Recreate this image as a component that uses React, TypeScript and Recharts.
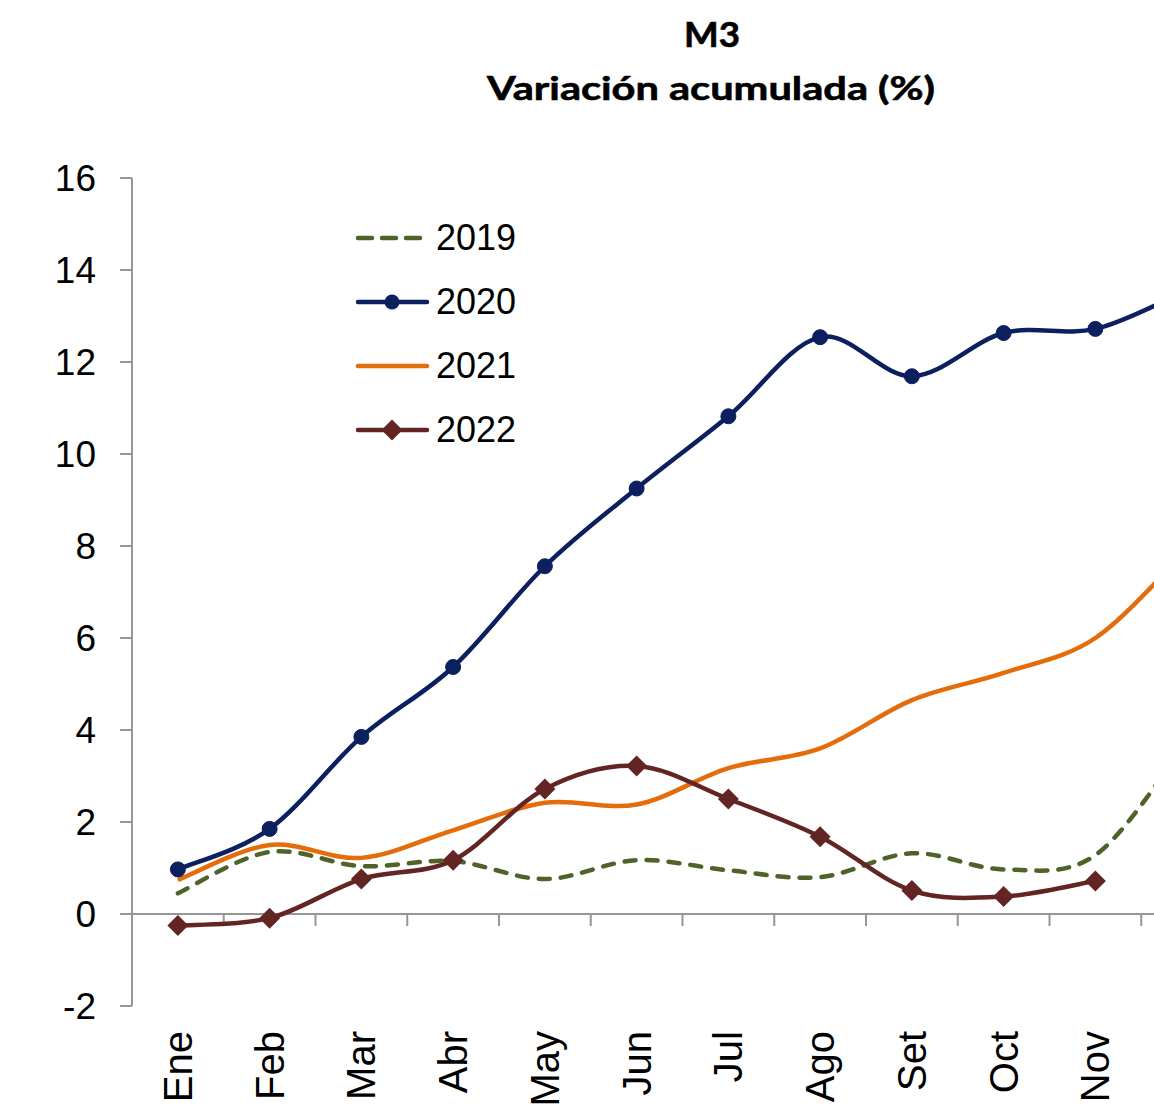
import React from 'react';
import {
  LineChart,
  Line,
  XAxis,
  YAxis,
  ReferenceLine,
} from 'recharts';

const months = ['Ene', 'Feb', 'Mar', 'Abr', 'May', 'Jun', 'Jul', 'Ago', 'Set', 'Oct', 'Nov', 'Dic'];
// the picture is cut at the right edge, Dic label is not visible
const shownMonths = months.slice(0, 11);
const yTicks = [-2, 0, 2, 4, 6, 8, 10, 12, 14, 16];

const v2019 = [0.45, 1.35, 1.04, 1.15, 0.76, 1.17, 0.95, 0.8, 1.32, 0.97, 1.28, 3.75];
const v2020 = [0.97, 1.85, 3.85, 5.37, 7.56, 9.25, 10.82, 12.54, 11.69, 12.63, 12.72, 13.56];
const v2021 = [0.74, 1.5, 1.22, 1.82, 2.42, 2.38, 3.17, 3.6, 4.65, 5.24, 6.0, 7.92];
const v2022 = [-0.25, -0.09, 0.76, 1.17, 2.72, 3.22, 2.5, 1.68, 0.51, 0.38, 0.72, null];

const data = months.map((m, i) => ({
  idx: i,
  month: m,
  y2019: v2019[i],
  y2020: v2020[i],
  y2021: v2021[i],
  y2022: v2022[i],
}));

const COLORS = {
  y2019: '#4f6228',
  y2020: '#0c1f5e',
  y2021: '#e46c0a',
  y2022: '#632523',
};

const AXIS = '#969696';
const FONT = '"Liberation Sans", Arial, sans-serif';
const LW = 4.5;

// Excel-like smoothed line (Catmull-Rom through the points)
const smoothCurve = (context: any) => {
  let pts: [number, number][] = [];
  return {
    areaStart() {},
    areaEnd() {},
    lineStart() {
      pts = [];
    },
    point(x: number, y: number) {
      pts.push([x, y]);
    },
    lineEnd() {
      if (!pts.length) return;
      context.moveTo(pts[0][0], pts[0][1]);
      for (let i = 0; i < pts.length - 1; i++) {
        const p0 = pts[i - 1] || pts[i];
        const p1 = pts[i];
        const p2 = pts[i + 1];
        const p3 = pts[i + 2] || p2;
        context.bezierCurveTo(
          p1[0] + (p2[0] - p0[0]) / 6,
          p1[1] + (p2[1] - p0[1]) / 6,
          p2[0] - (p3[0] - p1[0]) / 6,
          p2[1] - (p3[1] - p1[1]) / 6,
          p2[0],
          p2[1]
        );
      }
    },
  };
};

const MonthTick = ({ x, y, payload }: any) => (
  <text
    transform={`translate(${x},${y + 25}) rotate(-90)`}
    textAnchor="end"
    dy="0.35em"
    fontSize={40}
    fontFamily={FONT}
    fill="#000"
  >
    {months[payload.value]}
  </text>
);

const Diamond = (props: any) => {
  const { cx, cy, index } = props;
  if (cx == null || cy == null || props.value == null) return <g key={`d-${index}`} />;
  const s = 10.5;
  return (
    <path
      key={`d-${index}`}
      d={`M${cx},${cy - s}L${cx + s},${cy}L${cx},${cy + s}L${cx - s},${cy}Z`}
      fill={COLORS.y2022}
    />
  );
};

const legendItems = [
  { key: 'y2019', label: '2019', dashed: true, marker: 'none' },
  { key: 'y2020', label: '2020', dashed: false, marker: 'circle' },
  { key: 'y2021', label: '2021', dashed: false, marker: 'none' },
  { key: 'y2022', label: '2022', dashed: false, marker: 'diamond' },
];

const LegendBox = () => (
  <div style={{ position: 'absolute', left: 355, top: 206 }}>
    {legendItems.map((it) => {
      const c = (COLORS as any)[it.key];
      return (
        <div key={it.key} style={{ display: 'flex', alignItems: 'center', height: 64 }}>
          <svg width={81} height={24}>
            <line
              x1={3}
              x2={72}
              y1={12}
              y2={12}
              stroke={c}
              strokeWidth={LW}
              strokeLinecap="round"
              strokeDasharray={it.dashed ? '14 10' : undefined}
            />
            {it.marker === 'circle' && <circle cx={37} cy={12} r={7.5} fill={c} />}
            {it.marker === 'diamond' && <path d="M37,1.5L47.5,12L37,22.5L26.5,12Z" fill={c} />}
          </svg>
          <span style={{ fontFamily: FONT, fontSize: 36, color: '#000', lineHeight: 1 }}>{it.label}</span>
        </div>
      );
    })}
  </div>
);

export default function App() {
  const boundaries = months.map((_, i) => i + 0.5);
  return (
    <div
      style={{
        position: 'fixed',
        left: 0,
        top: 0,
        width: 1154,
        height: 1113,
        overflow: 'hidden',
        background: '#fff',
      }}
    >
      <svg width={1154} height={120} style={{ position: 'absolute', left: 0, top: 0 }}>
        <text
          x={712}
          y={47}
          textAnchor="middle"
          fontFamily="Lato, sans-serif"
          fontWeight={700}
          fontSize={34}
          fill="#000"
          stroke="#000"
          strokeWidth={0.6}
          textLength={56}
          lengthAdjust="spacingAndGlyphs"
        >
          M3
        </text>
        <text
          x={711}
          y={100}
          textAnchor="middle"
          fontFamily="Lato, sans-serif"
          fontWeight={700}
          fontSize={33}
          fill="#000"
          stroke="#000"
          strokeWidth={0.6}
          textLength={448}
          lengthAdjust="spacingAndGlyphs"
        >
          Variación acumulada (%)
        </text>
      </svg>
      <LineChart
        width={1260}
        height={1113}
        data={data}
        margin={{ top: 178, right: 27, left: 0, bottom: 0 }}
      >
        <XAxis
          dataKey="idx"
          type="number"
          domain={[-0.5, 11.5]}
          ticks={shownMonths.map((_, i) => i)}
          interval={0}
          tick={<MonthTick />}
          tickLine={false}
          axisLine={false}
          tickSize={0}
          tickMargin={0}
          height={107}
        />
        <YAxis
          domain={[-2, 16]}
          ticks={yTicks}
          interval={0}
          width={132}
          tick={{ fill: '#000', fontSize: 37, fontFamily: FONT }}
          tickLine={{ stroke: AXIS, strokeWidth: 2 }}
          axisLine={{ stroke: AXIS, strokeWidth: 2 }}
          tickSize={12}
          tickMargin={24}
        />
        <ReferenceLine y={0} stroke={AXIS} strokeWidth={2} />
        {boundaries.map((b) => (
          <ReferenceLine
            key={`tick-${b}`}
            segment={[
              { x: b, y: 0 },
              { x: b, y: -0.26 },
            ]}
            stroke={AXIS}
            strokeWidth={2}
          />
        ))}
        <Line
          dataKey="y2019"
          type={smoothCurve as any}
          stroke={COLORS.y2019}
          strokeWidth={LW}
          strokeDasharray="11 11"
          strokeLinecap="round"
          dot={false}
          activeDot={false}
          isAnimationActive={false}
        />
        <Line
          dataKey="y2021"
          type={smoothCurve as any}
          stroke={COLORS.y2021}
          strokeWidth={LW}
          dot={false}
          activeDot={false}
          isAnimationActive={false}
        />
        <Line
          dataKey="y2020"
          type={smoothCurve as any}
          stroke={COLORS.y2020}
          strokeWidth={LW}
          dot={{ r: 7.5, fill: COLORS.y2020, stroke: COLORS.y2020, strokeWidth: 1 }}
          activeDot={false}
          isAnimationActive={false}
        />
        <Line
          dataKey="y2022"
          type={smoothCurve as any}
          stroke={COLORS.y2022}
          strokeWidth={LW}
          dot={<Diamond />}
          activeDot={false}
          isAnimationActive={false}
        />
      </LineChart>
      <LegendBox />
    </div>
  );
}
